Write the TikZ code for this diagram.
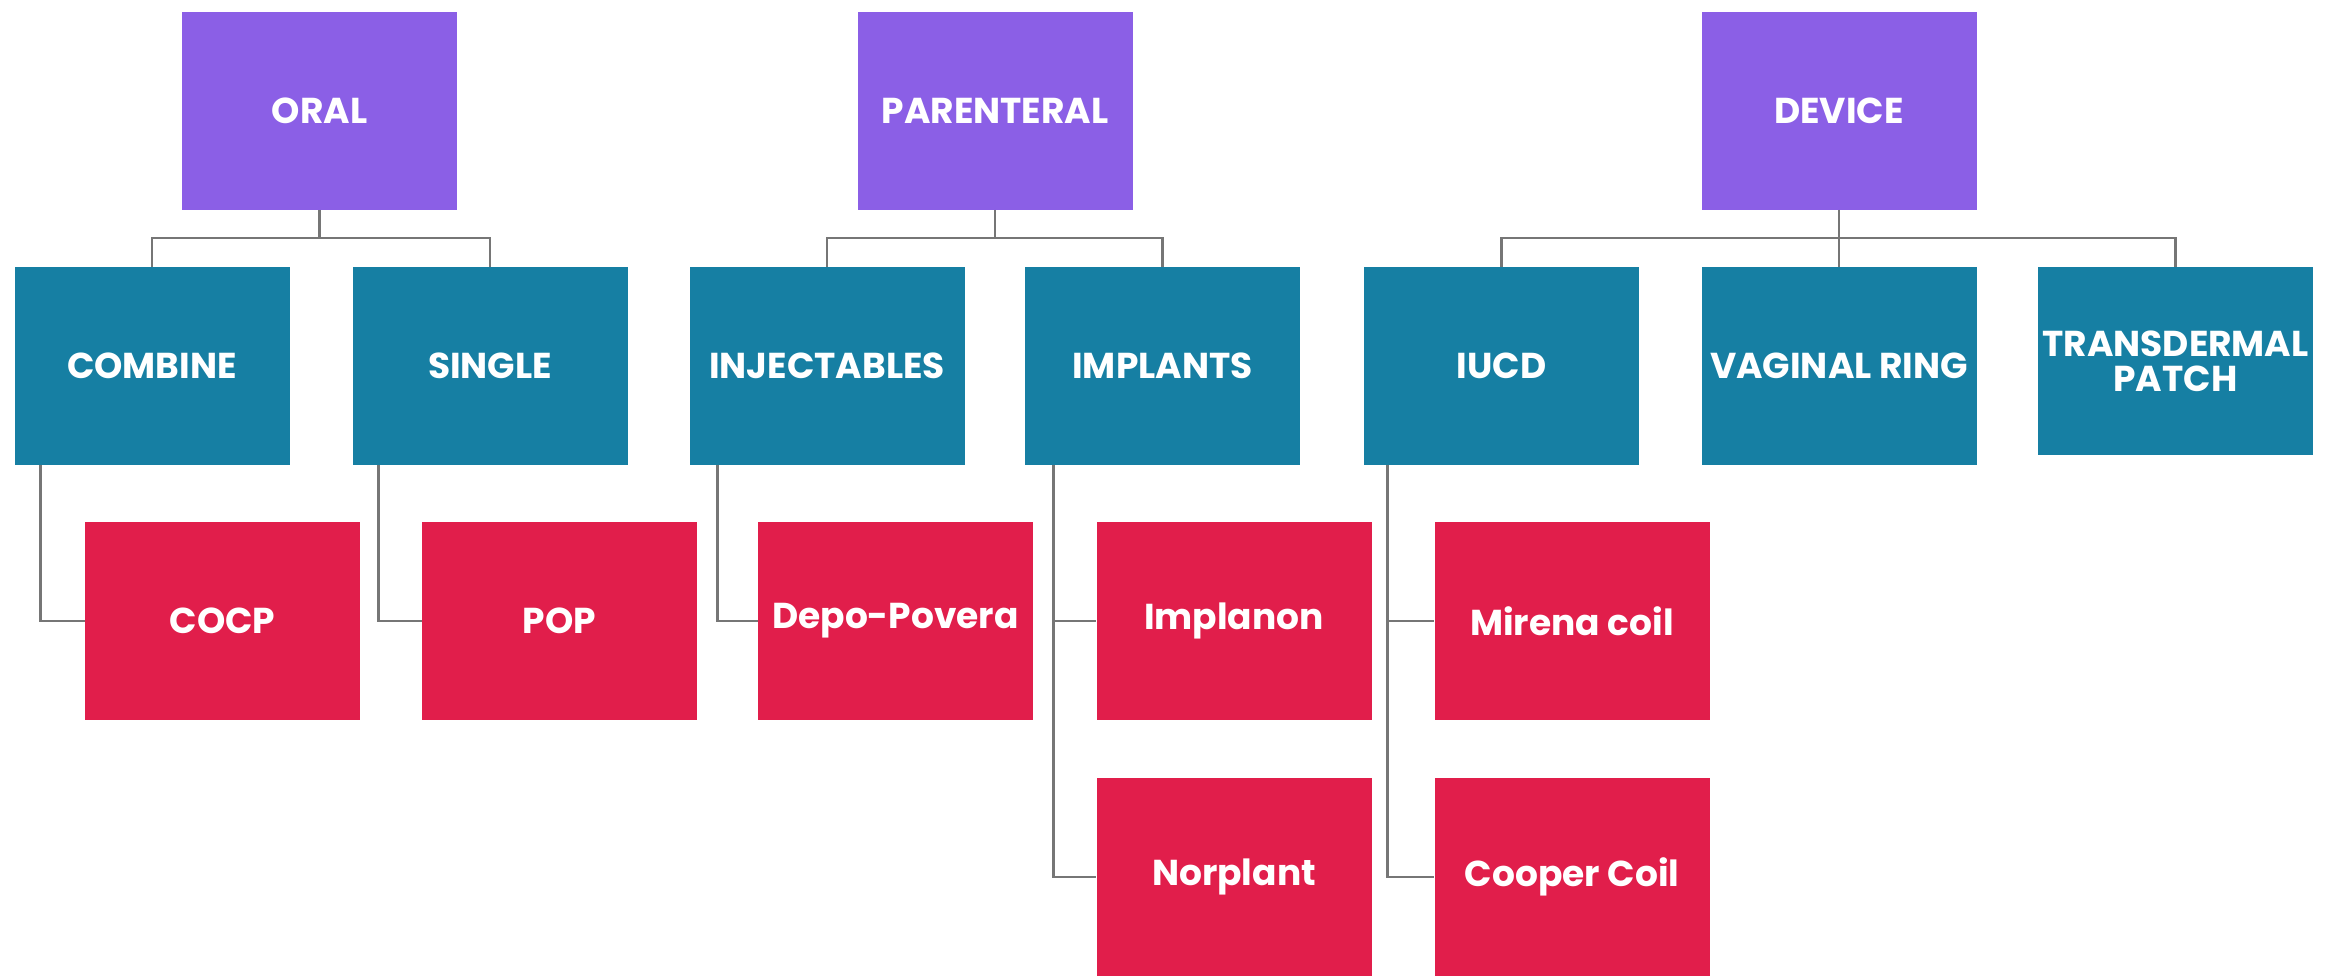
\documentclass[tikz,border=0pt]{standalone}
\usepackage{fontspec}
\setmainfont{Poppins}
\definecolor{catpurple}{HTML}{8B5FE6}
\definecolor{catteal}{HTML}{167FA3}
\definecolor{catred}{HTML}{E11E4B}
\definecolor{linkgray}{HTML}{767676}
\begin{document}
\begin{tikzpicture}[x=0.5pt,y=-0.5pt,
  box/.style={rectangle, inner sep=0pt, minimum width=137.5pt, minimum height=99pt,
    text=white, align=center, font=\bfseries\fontsize{18}{15}\selectfont},
  topbox/.style={box, fill=catpurple},
  midbox/.style={box, fill=catteal},
  lowbox/.style={box, fill=catred},
  link/.style={draw=linkgray, line width=1.4pt}]
\fill[white] (0,0) rectangle (2336,976);
\useasboundingbox (0,0) rectangle (2336,976);

% top level
\node[topbox] (oral) at (319.5,110.5) {ORAL};
\node[topbox] (parenteral) at (995,110.5) {PARENTERAL};
\node[topbox] (device) at (1839,110.5) {DEVICE};

% second level
\node[midbox] (combine) at (152,366) {COMBINE};
\node[midbox] (single) at (490,366) {SINGLE};
\node[midbox] (inject) at (827,366) {INJECTABLES};
\node[midbox] (implants) at (1162.5,366) {IMPLANTS};
\node[midbox] (iucd) at (1501.5,366) {IUCD};
\node[midbox] (vring) at (1839,366) {VAGINAL RING};
\node[midbox, minimum height=94pt] (tpatch) at (2175.5,361) {TRANSDERMAL\\[2.5pt]PATCH};

% third level
\node[lowbox] (cocp) at (222.5,621) {COCP};
\node[lowbox] (pop) at (559.5,621) {POP};
\node[lowbox] (depo) at (895.5,621) {Depo-Povera};
\node[lowbox] (implanon) at (1234,621) {Implanon};
\node[lowbox] (mirena) at (1572,621) {Mirena coil};
\node[lowbox] (norplant) at (1234,877) {Norplant};
\node[lowbox] (cooper) at (1572,877) {Cooper Coil};

% connectors top -> middle
\draw[link] (oral.south) -- ++(0,28) -| (combine.north);
\draw[link] (oral.south) -- ++(0,28) -| (single.north);
\draw[link] (parenteral.south) -- ++(0,28) -| (inject.north);
\draw[link] (parenteral.south) -- ++(0,28) -| (implants.north);
\draw[link] (device.south) -- ++(0,28) -| (iucd.north);
\draw[link] (device.south) -- ++(0,28) -| (vring.north);
\draw[link] (device.south) -- ++(0,28) -| (tpatch.north);

% connectors middle -> bottom
\draw[link] ([xshift=13pt]combine.south west) |- (cocp.west);
\draw[link] ([xshift=13pt]single.south west) |- (pop.west);
\draw[link] ([xshift=14pt]inject.south west) |- (depo.west);
\draw[link] ([xshift=14.5pt]implants.south west) |- (implanon.west);
\draw[link] ([xshift=14.5pt]implants.south west) |- (norplant.west);
\draw[link] ([xshift=12pt]iucd.south west) |- (mirena.west);
\draw[link] ([xshift=12pt]iucd.south west) |- (cooper.west);
\end{tikzpicture}
\end{document}
